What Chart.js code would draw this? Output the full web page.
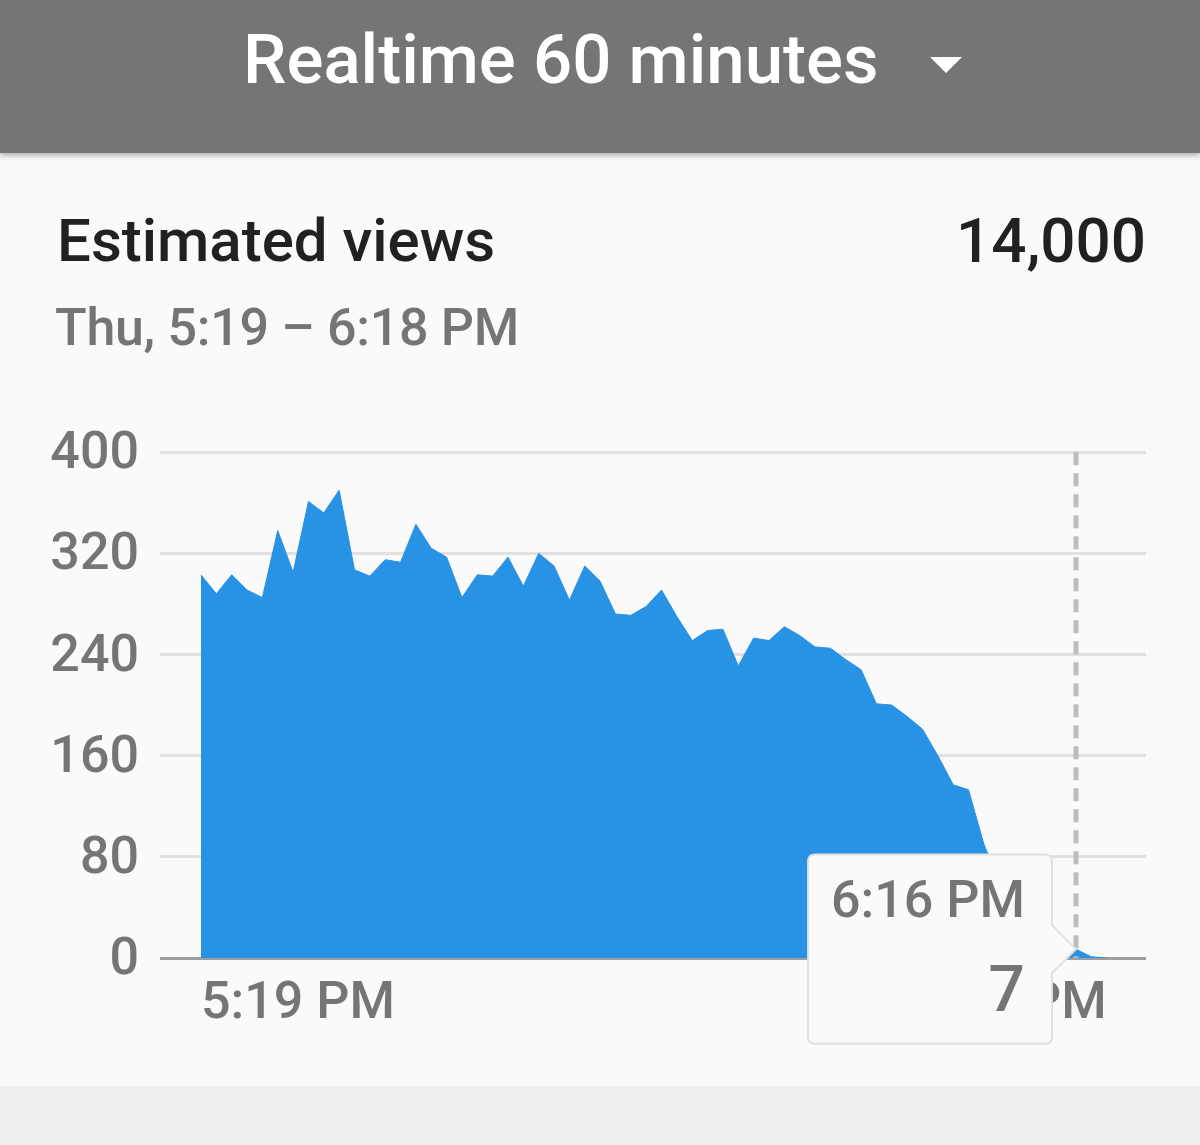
<!DOCTYPE html>
<html>
<head>
<meta charset="utf-8">
<script src="https://cdn.jsdelivr.net/npm/chart.js@4.4.1/dist/chart.umd.min.js"></script>
<style>
  html, body { margin: 0; padding: 0; }
  body { width: 1200px; height: 1145px; background: #eeeeee; position: relative; overflow: hidden; font-family: Roboto, sans-serif; }
  .header { position: absolute; left: 0; top: 0; width: 1200px; height: 153px; background: #757575; box-shadow: 0 2px 6px rgba(0,0,0,0.35); z-index: 2; }
  .header .title { position: absolute; left: 243px; top: 25px; font-size: 69px; line-height: 1; font-weight: 500; color: #fff; white-space: nowrap; }
  .header .arrow { position: absolute; left: 930px; top: 57px; width: 0; height: 0; border-left: 16px solid transparent; border-right: 16px solid transparent; border-top: 16px solid #fff; }
  .card { position: absolute; left: 0; top: 153px; width: 1200px; height: 933px; background: #fafafa; }
  .txt { position: absolute; line-height: 1; white-space: nowrap; }
  #chart { position: absolute; left: 0; top: 400px; }
</style>
</head>
<body>
<div class="header">
  <div class="title">Realtime 60 minutes</div>
  <div class="arrow"></div>
</div>
<div class="card"></div>
<div class="txt" style="left:57px; top:211px; font-size:60px; font-weight:500; color:#212121;">Estimated views</div>
<div class="txt" style="right:54px; top:210px; font-size:62px; font-weight:500; color:#212121;">14,000</div>
<div class="txt" style="left:55px; top:302px; font-size:52px; font-weight:500; letter-spacing:-0.3px; color:#757575;">Thu, 5:19 – 6:18 PM</div>
<canvas id="chart" width="1200" height="686"></canvas>
<script>
// minutes shown on the x axis
const times = [
  '5:19 PM', '5:20 PM', '5:21 PM', '5:22 PM', '5:23 PM', '5:24 PM', '5:25 PM', '5:26 PM', '5:27 PM', '5:28 PM',
  '5:29 PM', '5:30 PM', '5:31 PM', '5:32 PM', '5:33 PM', '5:34 PM', '5:35 PM', '5:36 PM', '5:37 PM', '5:38 PM',
  '5:39 PM', '5:40 PM', '5:41 PM', '5:42 PM', '5:43 PM', '5:44 PM', '5:45 PM', '5:46 PM', '5:47 PM', '5:48 PM',
  '5:49 PM', '5:50 PM', '5:51 PM', '5:52 PM', '5:53 PM', '5:54 PM', '5:55 PM', '5:56 PM', '5:57 PM', '5:58 PM',
  '5:59 PM', '6:00 PM', '6:01 PM', '6:02 PM', '6:03 PM', '6:04 PM', '6:05 PM', '6:06 PM', '6:07 PM', '6:08 PM',
  '6:09 PM', '6:10 PM', '6:11 PM', '6:12 PM', '6:13 PM', '6:14 PM', '6:15 PM', '6:16 PM', '6:17 PM', '6:18 PM'
]

// views per minute
const views = [
  303, 288, 303, 291, 285, 338, 305, 361, 352, 370,
  307, 302, 315, 313, 343, 324, 317, 285, 303, 302,
  317, 294, 320, 310, 283, 310, 298, 272, 271, 278,
  291, 270, 251, 259, 260, 231, 253, 251, 262, 255,
  246, 245, 236, 228, 201, 200, 191, 181, 160, 137,
  133, 90, 60, 38, 24, 15, 10, 7, 1, 0
]

const yTicks = [0, 80, 160, 240, 320, 400]
const xTickIndexes = [0, 59]
const hoverIndex = 57

const grey = '#757575'
const blue = '#2892e4'

// dashed marker at the hovered minute
const hoverLine = {
  id: 'hoverLine',
  afterDatasetsDraw: function (chart) {
    const ctx = chart.ctx
    const x = chart.scales.x.getPixelForValue(hoverIndex)
    const area = chart.chartArea
    ctx.save()
    ctx.strokeStyle = '#bdbdbd'
    ctx.lineWidth = 5
    ctx.setLineDash([13, 8])
    ctx.beginPath()
    ctx.moveTo(x, area.top)
    ctx.lineTo(x, area.bottom)
    ctx.stroke()
    ctx.restore()
  }
}

var points = []
for (var i = 0; i < views.length; i++) {
  points.push({ x: i, y: views[i] })
}

const chart = new Chart(document.getElementById('chart'), {
  type: 'line',
  data: {
    datasets: [
      {
        label: 'Estimated views',
        data: points,
        backgroundColor: blue,
        borderColor: blue,
        borderWidth: 1,
        fill: 'origin',
        pointRadius: 0,
        pointHoverRadius: 0,
        tension: 0
      }
    ]
  },
  plugins: [hoverLine],
  options: {
    responsive: false,
    animation: false,
    events: [],
    layout: {
      padding: { top: 51, right: 54, left: 0, bottom: 0 }
    },
    plugins: {
      legend: { display: false },
      tooltip: {
        enabled: true,
        backgroundColor: '#fafafa',
        borderColor: '#e0e0e0',
        borderWidth: 2,
        cornerRadius: 7,
        caretSize: 24,
        caretPadding: 0,
        xAlign: 'right',
        yAlign: 'center',
        displayColors: false,
        titleColor: grey,
        bodyColor: grey,
        titleAlign: 'right',
        bodyAlign: 'right',
        titleFont: { family: 'Roboto', size: 52, weight: '500' },
        bodyFont: { family: 'Roboto', size: 64, weight: '500' },
        titleMarginBottom: 22,
        padding: { top: 18, bottom: 10, left: 23, right: 27 },
        callbacks: {
          title: (items) => times[items[0].dataIndex],
          label: (item) => String(views[item.dataIndex])
        }
      }
    },
    scales: {
      x: {
        type: 'linear',
        min: -2.67,
        max: 61.56,
        afterFit: (s) => { s.height = 128 },
        afterBuildTicks: (s) => { s.ticks = xTickIndexes.map(v => ({ value: v })) },
        grid: { display: false },
        border: { display: false },
        ticks: {
          align: 'inner',
          autoSkip: false,
          maxRotation: 0,
          padding: 8,
          color: grey,
          font: { family: 'Roboto', size: 52, weight: '500' },
          callback: (v) => times[v]
        }
      },
      y: {
        min: 0,
        max: 400,
        afterFit: (s) => { s.width = 160 },
        afterBuildTicks: (s) => { s.ticks = yTicks.map(v => ({ value: v })) },
        border: { display: false },
        grid: {
          drawTicks: false,
          lineWidth: 3,
          color: (c) => c.tick && c.tick.value === 0 ? '#9e9e9e' : '#e0e0e0'
        },
        ticks: {
          padding: 21,
          labelOffset: 3,
          color: grey,
          font: { family: 'Roboto', size: 52, weight: '500' }
        }
      }
    }
  }
})

chart.tooltip.setActiveElements([{ datasetIndex: 0, index: hoverIndex }], { x: 0, y: 0 })
chart.update()
</script>
</body>
</html>
